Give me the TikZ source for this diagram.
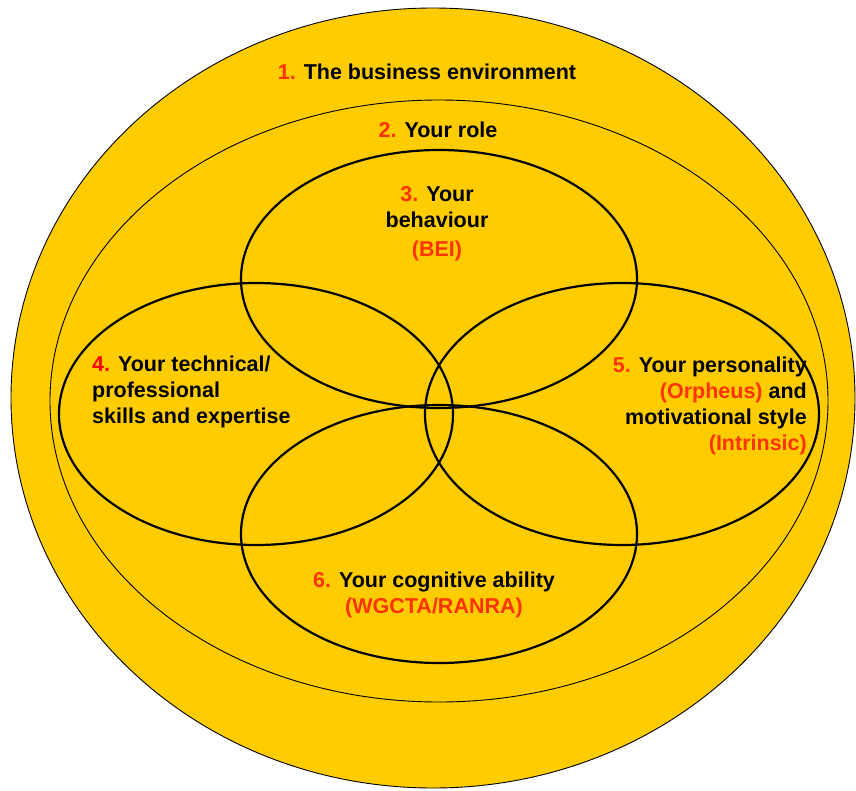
\documentclass[tikz,border=0pt]{standalone}
\usepackage{fontspec}
\setmainfont{Liberation Sans}
\definecolor{FillClr}{RGB}{255,204,0}
\definecolor{NumClr}{RGB}{255,51,0}
\definecolor{FourClr}{RGB}{255,0,0}
\newcommand{\num}[1]{\textcolor{NumClr}{#1}}

\begin{document}
\begin{tikzpicture}[x=1pt,y=-1pt,
  ring/.style={line width=0.9pt,color=black},
  area/.style={line width=2.2pt,color=black},
  lbl/.style={font=\fontsize{21.5}{26}\selectfont\bfseries,inner sep=0pt}]
\useasboundingbox (0,0) rectangle (856,790);

\coordinate (E) at (433,398);
\coordinate (R) at (439,401);
\coordinate (B) at (439,279);
\coordinate (T) at (256,414);
\coordinate (P) at (622,414);
\coordinate (C) at (439,534);

\fill[FillClr] (E) ellipse [x radius=422,y radius=390];
\draw[ring] (E) ellipse [x radius=422,y radius=390];
\draw[ring] (R) ellipse [x radius=389,y radius=301];

\draw[area] (B) ellipse [x radius=198,y radius=129];
\draw[area] (T) ellipse [x radius=197,y radius=131];
\draw[area] (P) ellipse [x radius=197,y radius=131];
\draw[area] (C) ellipse [x radius=198,y radius=129];

\node[lbl] (env) at (427,72) {\num{1.} The business environment};
\node[lbl] (role) at (438,130) {\num{2.} Your role};
\node[lbl,align=center] (behav) at (437,224) {\num{3.} Your\\behaviour\\[3pt]\num{(BEI)}};
\node[lbl,align=left,anchor=west] (tech) at (92,392) {\textcolor{FourClr}{4.} Your technical/\\professional\\skills and expertise};
\node[lbl,align=right,anchor=east] (pers) at (807,406) {\num{5.} Your personality\\\num{(Orpheus)} and\\motivational style \\\num{(Intrinsic)}};
\node[lbl,align=center] (cogn) at (434,595) {\num{6.} Your cognitive ability\\\num{(WGCTA/RANRA)}};
\end{tikzpicture}
\end{document}
